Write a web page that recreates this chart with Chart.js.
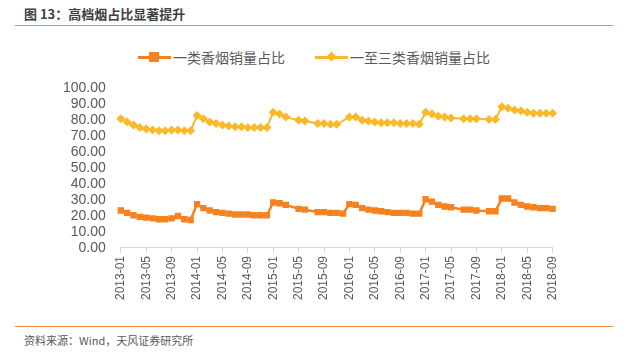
<!DOCTYPE html>
<html lang="zh">
<head>
<meta charset="UTF-8">
<title>图 13：高档烟占比显著提升</title>
<script src="https://cdn.jsdelivr.net/npm/chart.js"></script>
<style>
    body {
        margin: 0;
        width: 628px;
        height: 352px;
        background: white;
        position: relative;
        overflow: hidden;
        font-family: "Noto Sans CJK SC", "Liberation Sans", sans-serif;
    }
    .title {
        position: absolute;
        left: 24px;
        top: 4px;
        font-size: 13px;
        font-weight: bold;
        color: #404040;
    }
    .rule {
        position: absolute;
        left: 15px;
        width: 598px;
        height: 0;
        border-top: 1.5px solid #E8914A;
    }
    .source {
        position: absolute;
        left: 24px;
        top: 332px;
        font-size: 11px;
        color: #595959;
    }
    .legend {
        position: absolute;
        top: 47px;
        left: 0;
        width: 628px;
        height: 20px;
    }
    .leg-item {
        position: absolute;
        top: 0;
        height: 20px;
        font-size: 14px;
        color: #595959;
        line-height: 20px;
    }
    .leg-line {
        position: absolute;
        top: 9px;
        width: 33px;
        height: 2.5px;
    }
    .leg-mark {
        position: absolute;
    }
    .chart-box {
        position: absolute;
        left: 0;
        top: 65px;
        width: 570px;
        height: 258px;
    }
</style>
</head>
<body>

<div class="title">图 13：高档烟占比显著提升</div>
<div class="rule" style="top: 25px;"></div>

<div class="legend">
    <div class="leg-item" style="left: 138px;">
        <div class="leg-line" style="left: 0; background: #F5821F;"></div>
        <div class="leg-mark" style="left: 11px; top: 5px; width: 10px; height: 10px; background: #F5821F;"></div>
        <span style="margin-left: 35px;">一类香烟销量占比</span>
    </div>
    <div class="leg-item" style="left: 315px;">
        <div class="leg-line" style="left: 0; background: #FBB829;"></div>
        <div class="leg-mark" style="left: 13px; top: 6px; width: 7px; height: 7px; background: #FBB829; transform: rotate(45deg);"></div>
        <span style="margin-left: 35px;">一至三类香烟销量占比</span>
    </div>
</div>

<div class="chart-box">
    <canvas id="shareChart"></canvas>
</div>

<div class="rule" style="top: 326px;"></div>
<div class="source">资料来源：Wind，天风证券研究所</div>

<script>
    // months 2013-01 .. 2018-09
    const months = [];
    for (let y = 2013; y <= 2018; y++) {
        for (let m = 1; m <= 12; m++) {
            if (y === 2018 && m > 9) break;
            months.push(y + '-' + String(m).padStart(2, '0'));
        }
    }

    // 一类香烟销量占比 (%)
    const classOne = [
        23.5, 22, 20.5, 19.5, 19, 18.5, 18, 18, 18.5, 20, 18, 17.5,
        27.5, 25, 23.5, 22.5, 22, 21.5, 21, 21, 21, 20.5, 20.5, 20.5,
        28.5, 28, 27, null, 24.5, 24, null, 22.5, 22.5, 22, 22, 21.5,
        27.5, 27, 25, 24, 23.5, 23, 22.5, 22, 22, 22, 21.5, 21.5,
        30.5, 29, 27, 26, 25.5, null, 24, 24, 23.5, null, 23, 23,
        31, 31, 28.5, 27, 26, 25.5, 25, 25, 24.5
    ];

    // 一至三类香烟销量占比 (%)
    const classOneToThree = [
        81, 79, 77, 75.5, 74.5, 74, 73.5, 73.5, 74, 74, 73.5, 73.5,
        83, 81, 79, 78, 77, 76.5, 76, 76, 75.5, 75.5, 75.5, 75.5,
        85, 84, 82, null, 80, 79.5, null, 78, 78, 77.5, 77.5, null,
        82, 82, 80, 79.5, 79, 78.5, 78.5, 78.5, 78, 78, 78, 77.5,
        85, 84, 82.5, 82, 81.5, null, 81, 81, 81, null, 80.5, 80.5,
        88.5, 87.5, 86.5, 86, 85, 84.5, 84.5, 84.5, 84.5
    ];

    const yTicks = [0, 10, 20, 30, 40, 50, 60, 70, 80, 90, 100];

    const numFont = { family: "'Liberation Sans', Arial, sans-serif" };

    new Chart(document.getElementById('shareChart').getContext('2d'), {
        type: 'line',
        data: {
            labels: months,
            datasets: [{
                label: '一类香烟销量占比',
                data: classOne,
                borderColor: '#F5821F',
                backgroundColor: '#F5821F',
                borderWidth: 2.5,
                pointStyle: 'rect',
                pointRadius: 4.5,
                pointBorderWidth: 0,
                spanGaps: true,
                tension: 0
            }, {
                label: '一至三类香烟销量占比',
                data: classOneToThree,
                borderColor: '#FBB829',
                backgroundColor: '#FBB829',
                borderWidth: 2,
                pointStyle: 'rectRot',
                pointRadius: 4.5,
                pointBorderWidth: 0,
                spanGaps: true,
                tension: 0
            }]
        },
        options: {
            responsive: true,
            maintainAspectRatio: false,
            animation: false,
            layout: {
                padding: { left: 48, right: 0, top: 0, bottom: 20 }
            },
            scales: {
                x: {
                    offset: false,
                    grid: {
                        drawOnChartArea: false,
                        drawTicks: true,
                        tickLength: 5,
                        color: ctx => (ctx.index % 4 === 0 ? '#d9d9d9' : 'rgba(0,0,0,0)')
                    },
                    border: { display: true, color: '#d9d9d9' },
                    ticks: {
                        autoSkip: false,
                        maxRotation: 90,
                        minRotation: 90,
                        color: '#595959',
                        font: { ...numFont, size: 12 },
                        callback: function (val, i) {
                            return i % 4 === 0 ? months[i] : '';
                        }
                    }
                },
                y: {
                    min: 0,
                    max: 100,
                    afterBuildTicks: axis => {
                        axis.ticks = yTicks.map(v => ({ value: v }));
                    },
                    grid: { display: false, drawTicks: false },
                    border: { display: false },
                    ticks: {
                        autoSkip: false,
                        padding: 15,
                        color: '#595959',
                        font: { ...numFont, size: 14 },
                        callback: v => Number(v).toFixed(2)
                    }
                }
            },
            plugins: {
                legend: { display: false },
                tooltip: { enabled: false }
            }
        }
    });
</script>

</body>
</html>
